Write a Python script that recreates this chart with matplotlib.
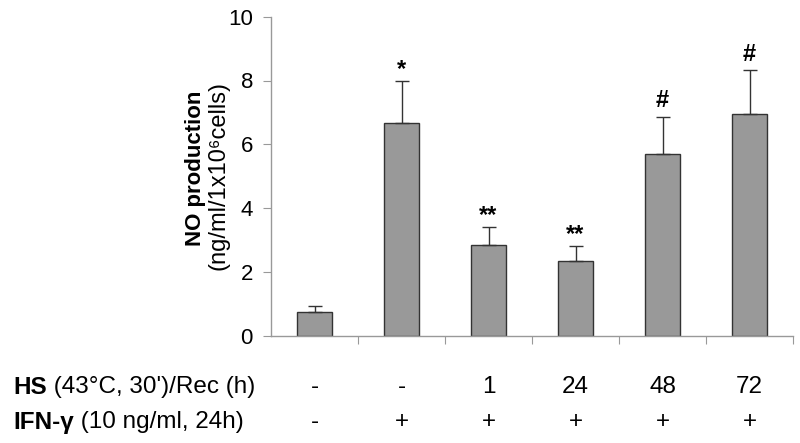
import numpy as np
import matplotlib
matplotlib.use('Agg')
import matplotlib.pyplot as plt
import matplotlib.transforms as mtransforms

plt.rcParams['font.family'] = ['Liberation Sans', 'DejaVu Sans']

# data
groups = ['ctrl', 'IFN', 'HS1', 'HS24', 'HS48', 'HS72']
no_mean = [0.75, 6.67, 2.83, 2.35, 5.70, 6.95]
no_err = [0.17, 1.32, 0.59, 0.47, 1.17, 1.37]
marks = ['', '*', '**', '**', '#', '#']
hs_row = ['-', '-', '1', '24', '48', '72']
ifn_row = ['-', '+', '+', '+', '+', '+']

W, H = 800, 443
fig = plt.figure(figsize=(W / 100, H / 100), dpi=100)
ax = fig.add_axes([271 / W, 1 - 335.7 / H, (793 - 271) / W, (335.7 - 16.7) / H])

x = np.arange(len(groups))
ax.bar(x, no_mean, width=0.4, color='#999999', edgecolor='#333333', linewidth=1.0, zorder=2)
ax.errorbar(x, no_mean, yerr=[np.zeros(len(no_err)), no_err], fmt='none',
            ecolor='#333333', elinewidth=1.0, capsize=5, capthick=1.0, zorder=3)

for xi, m, e, s in zip(x, no_mean, no_err, marks):
    if s:
        off = 0 if s.startswith('*') else 3
        ax.annotate(s, (xi, m + e), xytext=(0, off), textcoords='offset points',
                    ha='center', va='bottom', fontsize=17, fontweight='bold')

ax.set_xlim(-0.5, len(groups) - 0.5)
ax.set_ylim(0, 10)
ax.set_yticks([0, 2, 4, 6, 8, 10])
ax.tick_params(axis='y', labelsize=16, length=6, color='#999999', pad=7)
ax.set_xticks(np.arange(len(groups)) + 0.5)
ax.set_xticklabels([])
ax.tick_params(axis='x', length=6, color='#999999')
for side in ['top', 'right']:
    ax.spines[side].set_visible(False)
for side in ['left', 'bottom']:
    ax.spines[side].set_color('#999999')
    ax.spines[side].set_linewidth(1.0)

# y label in two lines
fig.text(195 / W, 1 - 168 / H, 'NO production', rotation=90, ha='center', va='center',
         fontsize=16, fontweight='bold')
fig.text(218 / W, 1 - 176 / H, '(ng/ml/1x10\u2076cells)', rotation=90, ha='center', va='center',
         fontsize=17)

# condition table below the axis
trans = mtransforms.blended_transform_factory(ax.transData, fig.transFigure)
row_y = [1 - 387 / H, 1 - 422 / H]
for yy, vals in zip(row_y, [hs_row, ifn_row]):
    for xi, v in zip(x, vals):
        ax.text(xi, yy, v, transform=trans, ha='center', va='center', fontsize=17.5)

fig.canvas.draw()
r = fig.canvas.get_renderer()
for yy, bold, rest in zip(row_y, ['HS', 'IFN-\u03b3'],
                          [" (43\u00b0C, 30')/Rec (h)", ' (10 ng/ml, 24h)']):
    t = fig.text(13 / W, yy, bold, ha='left', va='center', fontsize=17.5, fontweight='bold')
    bb = t.get_window_extent(r)
    fig.text(bb.x1 / W, yy, rest, ha='left', va='center', fontsize=17.5)

fig.savefig('out.png', dpi=100)
